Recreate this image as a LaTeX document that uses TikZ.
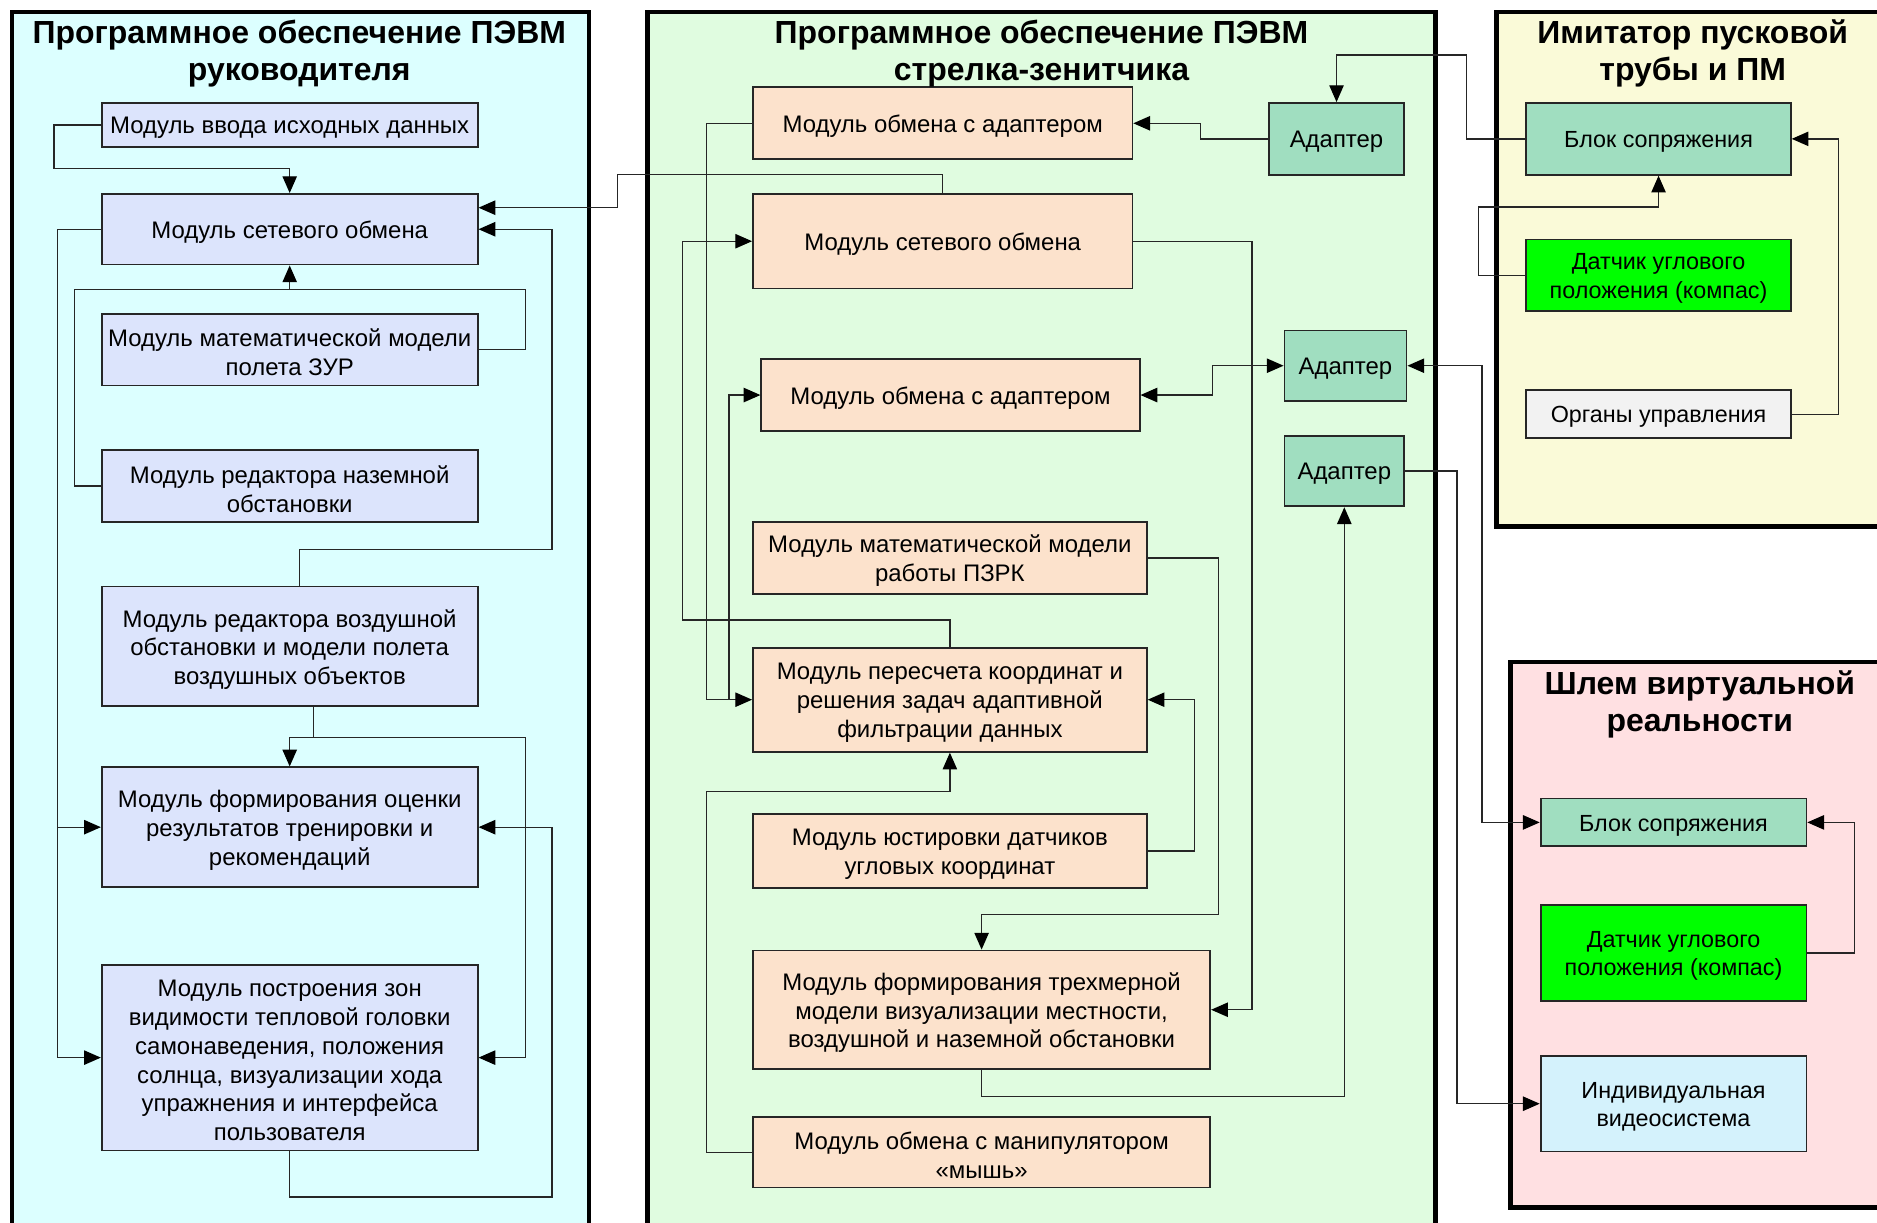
\documentclass[tikz,border=0pt]{standalone}
\usepackage{fontspec}
\setmainfont{Liberation Sans}
\usetikzlibrary{arrows.meta}
\definecolor{panL}{RGB}{220,255,255}
\definecolor{panM}{RGB}{224,252,224}
\definecolor{panY}{RGB}{250,250,216}
\definecolor{panP}{RGB}{255,224,226}
\definecolor{boxL}{RGB}{220,228,252}
\definecolor{boxM}{RGB}{252,226,204}
\definecolor{boxA}{RGB}{160,222,192}
\definecolor{boxG}{RGB}{0,255,0}
\definecolor{boxW}{RGB}{242,242,242}
\definecolor{boxB}{RGB}{212,242,252}
\tikzset{
  panel/.style={draw=black, line width=4pt},
  bx/.style={draw=black!85, line width=1.5pt, inner sep=0pt},
  lbx/.style={bx, fill=boxL},
  mbx/.style={bx, fill=boxM},
  abx/.style={bx, fill=boxA},
  txt/.style={align=center, inner sep=0pt, font=\fontsize{20}{24}\selectfont},
  rtxt/.style={txt, font=\fontsize{19.5}{24}\selectfont},
  con/.style={draw=black!85, line width=1.1pt},
  tip/.tip={Triangle[length=14pt,width=12pt,color=black]},
  arr/.style={con, -tip},
  barr/.style={con, tip-tip},
  ttl/.style={font=\fontsize{26.7}{32}\selectfont\bfseries, anchor=base, inner sep=0pt},
}
% #1 name, #2 box style, #3-#6 x1 y1 x2 y2, #7 text style, #8 text
\newcommand\mkbox[8]{%
  \node[#2, minimum width={(#5-#3)*1pt}, minimum height={(#6-#4)*1pt}] (#1) at ({(#3+#5)/2},{(#4+#6)/2}) {};
  \node[#7] (#1t) at ([yshift=-2.5pt]#1.center) {#8};}
\begin{document}
\begin{tikzpicture}[x=1pt,y=-1pt]
\useasboundingbox (0,0) rectangle (1568,1021);
\clip (0,0) rectangle (1568,1021);
% panels
\draw[panel, fill=panL] (10,10) rectangle (492,1040);
\draw[panel, fill=panM] (541,10) rectangle (1199,1040);
\draw[panel, fill=panY] (1250,10) rectangle (1600,440);
\draw[panel, fill=panP] (1262,553) rectangle (1600,1009);
% left boxes
\mkbox{L1}{lbx}{85}{86}{399}{123}{txt}{Модуль ввода исходных данных}
\mkbox{L2}{lbx}{85}{162}{399}{221}{txt}{Модуль сетевого обмена}
\mkbox{L3}{lbx}{85}{262}{399}{322}{txt}{Модуль математической модели\\полета ЗУР}
\mkbox{L4}{lbx}{85}{376}{399}{436}{txt}{Модуль редактора наземной\\обстановки}
\mkbox{L5}{lbx}{85}{490}{399}{590}{txt}{Модуль редактора воздушной\\обстановки и модели полета\\воздушных объектов}
\mkbox{L6}{lbx}{85}{641}{399}{741}{txt}{Модуль формирования оценки\\результатов тренировки и\\рекомендаций}
\mkbox{L7}{lbx}{85}{806}{399}{961}{txt}{Модуль построения зон\\видимости тепловой головки\\самонаведения, положения\\солнца, визуализации хода\\упражнения и интерфейса\\пользователя}
% middle boxes
\mkbox{M1}{mbx}{629}{73}{946}{133}{txt}{Модуль обмена с адаптером}
\mkbox{M2}{mbx}{629}{162}{946}{241}{txt}{Модуль сетевого обмена}
\mkbox{M3}{mbx}{636}{300}{952}{360}{txt}{Модуль обмена с адаптером}
\mkbox{M4}{mbx}{629}{436}{958}{496}{txt}{Модуль математической модели\\работы ПЗРК}
\mkbox{M5}{mbx}{629}{541}{958}{628}{txt}{Модуль пересчета координат и\\решения задач адаптивной\\фильтрации данных}
\mkbox{M6}{mbx}{629}{680}{958}{742}{txt}{Модуль юстировки датчиков\\угловых координат}
\mkbox{M7}{mbx}{629}{794}{1011}{893}{txt}{Модуль формирования трехмерной\\модели визуализации местности,\\воздушной и наземной обстановки}
\mkbox{M8}{mbx}{629}{933}{1011}{992}{txt}{Модуль обмена с манипулятором\\«мышь»}
\mkbox{A1}{abx}{1060}{86}{1173}{146}{txt}{Адаптер}
\mkbox{A2}{abx}{1073}{276}{1175}{335}{txt}{Адаптер}
\mkbox{A3}{abx}{1073}{364}{1173}{423}{txt}{Адаптер}
% right boxes
\mkbox{R1}{bx, fill=boxA}{1275}{86}{1496}{146}{rtxt}{Блок сопряжения}
\mkbox{R2}{bx, fill=boxG}{1275}{200}{1496}{260}{rtxt}{Датчик углового\\положения (компас)}
\mkbox{R3}{bx, fill=boxW}{1275}{326}{1496}{366}{rtxt}{Органы управления}
\mkbox{H1}{bx, fill=boxA}{1287}{667}{1509}{707}{rtxt}{Блок сопряжения}
\mkbox{H2}{bx, fill=boxG}{1287}{756}{1509}{836}{rtxt}{Датчик углового\\положения (компас)}
\mkbox{H3}{bx, fill=boxB}{1287}{882}{1509}{962}{rtxt}{Индивидуальная\\видеосистема}
% titles
\node[ttl] (T1a) at (250,36) {Программное обеспечение ПЭВМ};
\node[ttl] (T1b) at (250,67) {руководителя};
\node[ttl] (T2a) at (870,36) {Программное обеспечение ПЭВМ};
\node[ttl] (T2b) at (870,67) {стрелка-зенитчика};
\node[ttl] (T3a) at (1414,36) {Имитатор пусковой};
\node[ttl] (T3b) at (1414,67) {трубы и ПМ};
\node[ttl] (T4a) at (1420,580) {Шлем виртуальной};
\node[ttl] (T4b) at (1420,611) {реальности};
% junctions
\coordinate (jL1) at (242,242);
\coordinate (jL2) at (48,691);
\coordinate (jL3) at (262,616);
\coordinate (jM1) at (609,584.5);
% left connectors
\draw[arr] (L1.west) -| (45,141) -- (242,141) -- (L2.north);
\draw[con] (L3.east) -| (439,242) -| (62,406) -- (L4.west);
\draw[arr] (jL1) -- (L2.south);
\draw[arr] (L2.west) -| (48,883.5) -- (L7.west);
\draw[arr] (jL2) -- (L6.west);
\draw[arr] ([xshift=8pt]L5.north) |- (461,459) |- (L2.east);
\draw[arr] (L7.south) -- (242,1000) -| (461,691) -- (L6.east);
\draw[arr] ([xshift=20pt]L5.south) -- (jL3) -| (L6.north);
\draw[arr] (jL3) -| (439,883.5) -- (L7.east);
\draw[arr] (M2.north) |- (516,146) |- ([yshift=18pt]L2.east);
% middle connectors
\draw[arr] (A1.west) -| (1003,103) -- (M1.east);
\draw[arr] (R1.west) -| (1225,46) -| (A1.north);
\draw[arr] (M1.west) -| (590,584.5) -- (M5.west);
\draw[arr] (jM1) |- (M3.west);
\draw[arr] (M5.north) |- (570,518) |- (M2.west);
\draw[arr] (M8.west) -| (590,661) -| (M5.south);
\draw[barr] (M3.east) -| (1013,305.5) -- (A2.west);
\draw[barr] (A2.east) -| (1238,687) -- (H1.west);
\draw[arr] (A3.east) -| (1217,922) -- (H3.west);
\draw[arr] (M2.east) -| (1046,843.5) -- (M7.east);
\draw[arr] (M4.east) -| (1018,764) -| (M7.north);
\draw[arr] (M6.east) -| (998,584.5) -- (M5.east);
\draw[arr] (M7.south) |- (1123,916) -- (A3.south);
% right connectors
\draw[arr] (R2.west) -| (1235,173) -| (R1.south);
\draw[arr] (R3.east) -| (1536,116) -- (R1.east);
\draw[arr] (H2.east) -| (1549,687) -- (H1.east);
\end{tikzpicture}
\end{document}
